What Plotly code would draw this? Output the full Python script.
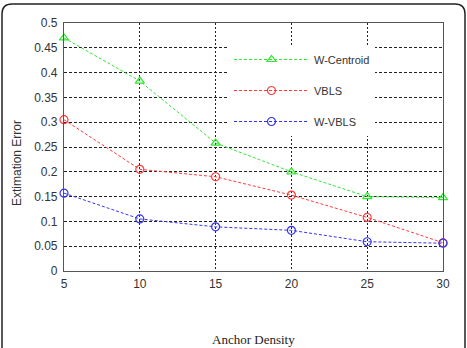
import plotly.graph_objects as go

anchor_density = [5, 10, 15, 20, 25, 30]
w_centroid = [0.470, 0.383, 0.258, 0.200, 0.150, 0.148]
vbls = [0.305, 0.205, 0.190, 0.153, 0.108, 0.057]
w_vbls = [0.157, 0.105, 0.089, 0.082, 0.059, 0.056]

y_tickvals = [0, 0.05, 0.1, 0.15, 0.2, 0.25, 0.3, 0.35, 0.4, 0.45, 0.5]
y_ticktext = ["0", "0.05", "0.1", "0.15", "0.2", "0.25", "0.3", "0.35", "0.4", "0.45", "0.5"]
x_tickvals = [5, 10, 15, 20, 25, 30]

series = [
    ("W-Centroid", w_centroid, "#33e633", "triangle-up-open"),
    ("VBLS", vbls, "#ff3b3b", "circle-open"),
    ("W-VBLS", w_vbls, "#3434f0", "circle-open"),
]

fig = go.Figure()
for name, vals, color, sym in series:
    fig.add_trace(go.Scatter(
        x=anchor_density, y=vals, name=name, legendgroup=name, mode="lines+markers",
        line=dict(color=color, width=1, dash="3px,2px"),
        marker=dict(symbol=sym, size=8, color=color, line=dict(width=1.2, color=color)),
        cliponaxis=False,
    ))

W, H = 467, 348
L, R, T, B = 64, 24, 23, 77
pw, ph = W - L - R, H - T - B

def px(x):
    return (x - L) / pw

def py(y):
    return (H - B - y) / ph

# outer rounded frame
x0, x1, y0, y1, r = 2, 465, 4, 360, 10
path = (f"M {px(x0)},{py(y0 + r)} L {px(x0)},{py(y1)} "
        f"M {px(x0)},{py(y0 + r)} Q {px(x0)},{py(y0)} {px(x0 + r)},{py(y0)} "
        f"L {px(x1 - r)},{py(y0)} Q {px(x1)},{py(y0)} {px(x1)},{py(y0 + r)} "
        f"L {px(x1)},{py(y1)}")
fig.add_shape(type="path", path=path, xref="paper", yref="paper",
              line=dict(color="#222222", width=1.5))

fig.update_layout(
    width=W, height=H,
    margin=dict(l=L, r=R, t=T, b=B),
    paper_bgcolor="white", plot_bgcolor="white",
    font=dict(family="Liberation Sans, Arial, sans-serif", size=12, color="#222222"),
    showlegend=True,
    legend=dict(
        x=px(229), y=py(45), xanchor="left", yanchor="top",
        bgcolor="white", borderwidth=0,
        font=dict(size=11, color="#333333"),
        itemwidth=75, tracegroupgap=12, traceorder="grouped",
        entrywidth=190, entrywidthmode="pixels",
    ),
    xaxis=dict(
        range=[5, 30], tickvals=x_tickvals, ticks="", showline=True, mirror=True,
        linecolor="#555555", linewidth=1.2,
        showgrid=True, gridcolor="#222222", gridwidth=1, griddash="2px,2px",
        zeroline=False, ticklabelstandoff=1,
        tickfont=dict(size=12, color="#333333"),
    ),
    yaxis=dict(
        range=[0, 0.5], tickvals=y_tickvals, ticktext=y_ticktext, ticks="",
        showline=True, mirror=True, linecolor="#555555", linewidth=1.2,
        showgrid=True, gridcolor="#222222", gridwidth=1, griddash="3px,2px",
        zeroline=False, ticklabelstandoff=3,
        tickfont=dict(size=12, color="#333333"),
    ),
    annotations=[
        dict(text="Anchor Density", xref="paper", yref="paper", x=px(253), y=py(339),
             showarrow=False, xanchor="center", yanchor="middle",
             font=dict(family="Liberation Serif, Times New Roman, serif", size=13, color="#222222")),
        dict(text="Extimation Error", xref="paper", yref="paper", x=px(17), y=py(163),
             showarrow=False, xanchor="center", yanchor="middle", textangle=-90,
             font=dict(size=12, color="#333333")),
    ],
)

fig.write_html("out.html")
